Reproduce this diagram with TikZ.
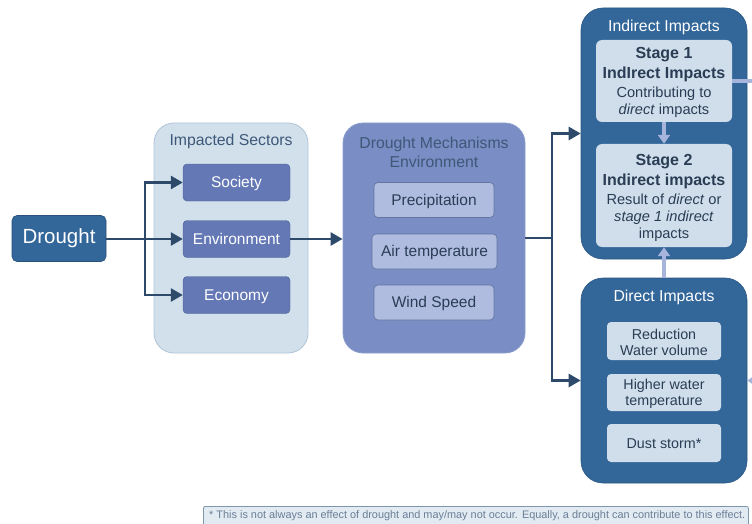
\documentclass[tikz,border=0pt]{standalone}
\usepackage{fontspec}
\setmainfont{Liberation Sans}
\usetikzlibrary{arrows.meta}
\definecolor{darkblue}{HTML}{336699}
\definecolor{navy}{HTML}{2E4A6A}
\definecolor{secfill}{HTML}{D2E0EC}
\definecolor{secborder}{HTML}{AFC4D8}
\definecolor{sectorbox}{HTML}{6478B6}
\definecolor{sectorborder}{HTML}{4B5E94}
\definecolor{mechfill}{HTML}{7A8DC4}
\definecolor{mechborder}{HTML}{8C9DCC}
\definecolor{mechinner}{HTML}{AFBCE0}
\definecolor{mechinnerb}{HTML}{62739F}
\definecolor{lightinner}{HTML}{D0DEEB}
\definecolor{lightarrow}{HTML}{A7B5DC}
\definecolor{titletext}{HTML}{3E5878}
\definecolor{darktext}{HTML}{2A3D55}
\definecolor{footfill}{HTML}{E2EAF2}
\definecolor{footborder}{HTML}{7F96AE}
\definecolor{foottext}{HTML}{6A7F96}
\newcommand{\bigbold}[1]{{\fontsize{16}{18}\selectfont\bfseries #1}}
\tikzset{
  fs/.style 2 args={font=\fontsize{#1}{#2}\selectfont},
  container/.style={rounded corners=20pt, minimum width=#1, inner sep=0pt},
  sectorstyle/.style={draw=sectorborder, fill=sectorbox, rounded corners=4pt, minimum width=107pt, minimum height=37pt, text=white, fs={15.5}{18}, inner sep=0pt, text height=14pt, text depth=3.3pt},
  mechstyle/.style={draw=mechinnerb, line width=0.6pt, fill=mechinner, rounded corners=4pt, minimum height=35pt, text=darktext, fs={15.5}{18}, inner sep=0pt, text height=14pt, text depth=3.3pt},
  lightbox/.style={fill=lightinner, rounded corners=6pt, text=darktext, fs={14.3}{17}, inner sep=0pt, align=center},
  darkconn/.style={draw=navy, line width=2.6pt},
  darkarrow/.style={darkconn, -{Triangle[length=12pt,width=13pt]}},
  lightconn/.style={draw=lightarrow, line width=3.5pt},
  lightarr/.style={lightconn, -{Triangle[length=9pt,width=12pt]}},
}
\begin{document}
\begin{tikzpicture}[x=1pt,y=-1pt]
\useasboundingbox (0,0) rectangle (752,524);

% Drought
\node[fill=darkblue, draw=darkblue!80!black, line width=0.6pt, rounded corners=5pt, minimum width=94pt, minimum height=46pt, text=white, fs={20.5}{24}, inner sep=0pt] (drought) at (59,238.5) {Drought};

% Impacted sectors
\node[container=154pt, minimum height=230pt, fill=secfill, draw=secborder, line width=0.8pt] (sectors) at (231,238) {};
\node[text=titletext, fs={15.8}{19}] (sectitle) at (231,141.5) {Impacted Sectors};
\node[sectorstyle] (society) at (236.5,182.5) {Society};
\node[sectorstyle] (environment) at (236.5,239) {Environment};
\node[sectorstyle] (economy) at (236.5,295) {Economy};

% Drought mechanisms
\node[container=182pt, minimum height=230pt, fill=mechfill, draw=mechborder, line width=0.8pt] (mech) at (434,238) {};
\node[text=titletext, fs={15.8}{19}, align=center, inner sep=0pt] (mechtitle) at (434,152.5) {Drought Mechanisms\\Environment};
\node[mechstyle, minimum width=120pt] (precip) at (434,200) {Precipitation};
\node[mechstyle, minimum width=125pt] (air) at (434.5,251.5) {Air temperature};
\node[mechstyle, minimum width=120pt] (wind) at (434,302.5) {Wind Speed};

% Indirect impacts
\node[container=166pt, rounded corners=22pt, minimum height=251pt, fill=darkblue, draw=darkblue!85!black, line width=0.6pt] (indirect) at (664,133.5) {};
\node[text=white, fs={15.8}{19}] (indtitle) at (664,27) {Indirect Impacts};
\node[lightbox, minimum width=136pt, minimum height=82pt] (stage1) at (664,81) {};
\node[text=darktext, fs={14.6}{18}, align=center, inner sep=0pt] (s1text) at (664,82)
  {\bigbold{Stage 1}\\[2pt]\bigbold{IndIrect Impacts}\\[1pt]Contributing to\\[-1pt]\textit{direct} impacts};
\node[lightbox, minimum width=136pt, minimum height=103pt] (stage2) at (664,195.5) {};
\node[text=darktext, fs={14.6}{18}, align=center, inner sep=0pt] (s2text) at (664,197.5)
  {\bigbold{Stage 2}\\[2pt]\bigbold{Indirect impacts}\\[1pt]Result of \textit{direct} or\\[-1pt]\textit{stage 1 indirect}\\[-1pt]impacts};

% Direct impacts
\node[container=166pt, rounded corners=22pt, minimum height=205pt, fill=darkblue, draw=darkblue!85!black, line width=0.6pt] (direct) at (664,380.5) {};
\node[text=white, fs={15.8}{19}] (dirtitle) at (664,297) {Direct Impacts};
\node[lightbox, minimum width=114pt, minimum height=38pt, rounded corners=4pt] (reduction) at (664,341) {};
\node[text=darktext, fs={14.3}{17}, align=center, inner sep=0pt] (redtext) at (664,342) {Reduction\\[-1pt]Water volume};
\node[lightbox, minimum width=114pt, minimum height=37pt, rounded corners=4pt] (higher) at (664,392.5) {};
\node[text=darktext, fs={14.3}{17}, align=center, inner sep=0pt] (higtext) at (664,393.5) {Higher water\\[-1pt]temperature};
\node[lightbox, minimum width=114pt, minimum height=38pt, rounded corners=4pt, text height=13pt, text depth=3pt] (dust) at (664,443) {Dust storm*};

% Footnote
\node[fill=footfill, draw=footborder, line width=0.8pt, rounded corners=2pt, minimum width=545pt, minimum height=26pt, anchor=north west, inner sep=0pt] (footbox) at (203,506) {};
\node[text=foottext, fs={10.9}{12}, anchor=west, inner sep=0pt] (foottxt) at (209,515.5) {* This is not always an effect of drought and may/may not occur. Equally, a drought can contribute to this effect.};

% Connectors
\coordinate (j1) at (145,239);
\coordinate (j2) at (552,238);
\draw[darkconn] (drought.east |- j1) -- (j1);
\draw[darkarrow] (j1) |- (society.west);
\draw[darkarrow] (j1) |- (economy.west);
\draw[darkarrow] (j1) -- (environment.west);
\draw[darkarrow] (environment.east) -- (mech.west |- environment.east);
\draw[darkconn] (mech.east |- j2) -- (j2);
\draw[darkarrow] (j2) |- (indirect.west);
\draw[darkarrow] (j2) |- (direct.west);

\draw[lightarr] (stage1.south) -- (stage2.north);
\draw[lightarr] (direct.north) -- (stage2.south);
\coordinate (out1) at (752,81);
\draw[lightconn] (stage1.east) -- (out1);
\coordinate (in1) at (754,380.5);
\draw[lightarr] (in1) -- (direct.east);
\end{tikzpicture}
\end{document}
